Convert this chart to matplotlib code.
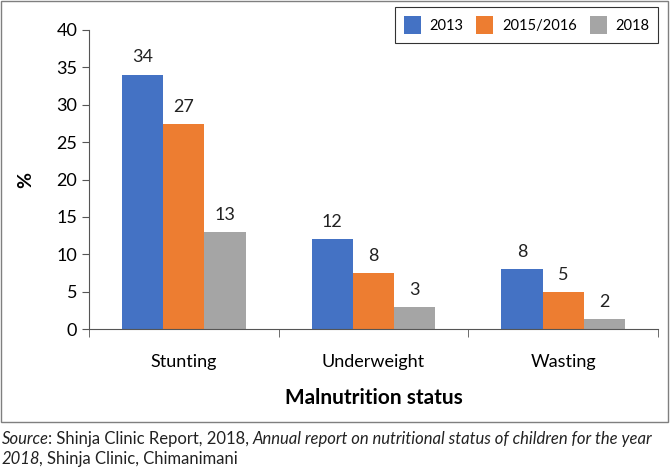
import numpy as np
import matplotlib.pyplot as plt
from matplotlib.patches import Rectangle

# --- Data ---
categories = ["Stunting", "Underweight", "Wasting"]
years = ["2013", "2015/2016", "2018"]
heights_2013 = [34, 12, 8]
heights_2015 = [27.4, 7.5, 5]
heights_2018 = [13, 3, 1.4]
labels_2013 = ["34", "12", "8"]
labels_2015 = ["27", "8", "5"]
labels_2018 = ["13", "3", "2"]
y_ticks = [0, 5, 10, 15, 20, 25, 30, 35, 40]

colors = ["#4472C4", "#ED7D31", "#A5A5A5"]

plt.rcParams["font.family"] = ["Lato", "DejaVu Sans"]

fig = plt.figure(figsize=(6.7, 4.73), dpi=100)
ax = fig.add_axes([0.133, 0.304, 0.849, 0.633])

# outer frame around chart
fig.patches.append(Rectangle((0.002, 0.108), 0.995, 0.889, transform=fig.transFigure,
                             fill=False, edgecolor="#7f7f7f", linewidth=1.0))

x = np.arange(len(categories))
w = 0.217
series = [(heights_2013, labels_2013), (heights_2015, labels_2015), (heights_2018, labels_2018)]
for i, (h, lab) in enumerate(series):
    pos = x + (i - 1) * w
    bars = ax.bar(pos, h, width=w, color=colors[i], label=years[i])
    for b, t in zip(bars, lab):
        ax.text(b.get_x() + b.get_width() / 2, b.get_height() + 2.3, t,
                ha="center", va="center", fontsize=13, color="#222222")

ax.set_xlim(-0.5, 2.5)
ax.set_ylim(0, 40)
ax.set_yticks(y_ticks)
ax.set_xticks(x)
ax.set_xticklabels(categories)
ax.set_xticks([-0.5, 0.5, 1.5, 2.5], minor=True)
ax.tick_params(axis="x", which="major", length=0, pad=18, labelsize=13)
ax.tick_params(axis="x", which="minor", length=6, color="#555555")
ax.tick_params(axis="y", length=5, labelsize=13, color="#555555")
for s in ["top", "right"]:
    ax.spines[s].set_visible(False)
ax.spines["left"].set_color("#555555")
ax.spines["bottom"].set_color("#555555")

ax.set_ylabel("%", fontsize=14, fontweight="bold", labelpad=16)
ax.set_xlabel("Malnutrition status", fontsize=15, fontweight="bold", labelpad=13)

leg = ax.legend(loc="upper right", ncol=3, bbox_to_anchor=(1.008, 1.09), fontsize=10.5,
                frameon=True, fancybox=False, edgecolor="black", handlelength=1.15,
                handleheight=1.55, handletextpad=0.6, columnspacing=0.9, borderpad=0.6,
                borderaxespad=0.3)
leg.get_frame().set_linewidth(0.8)

# --- Source note with mixed italic / regular pieces ---
source_lines = [
    [("Source", "italic"), (": Shinja Clinic Report, 2018, ", "normal"),
     ("Annual report on nutritional status of children for the year", "italic")],
    [("2018", "italic"), (", Shinja Clinic, Chimanimani", "normal")],
]
fig.canvas.draw()
renderer = fig.canvas.get_renderer()
inv = fig.transFigure.inverted()
for y0, pieces in zip([0.062, 0.020], source_lines):
    x0 = 0.003
    for txt, style in pieces:
        t = fig.text(x0, y0, txt, fontsize=12, fontstyle=style, color="#222222",
                     va="baseline")
        bb = t.get_window_extent(renderer)
        x0 = inv.transform((bb.x1, bb.y0))[0] - (0.002 if style == "italic" else 0)

fig.savefig("out.png", dpi=100)
